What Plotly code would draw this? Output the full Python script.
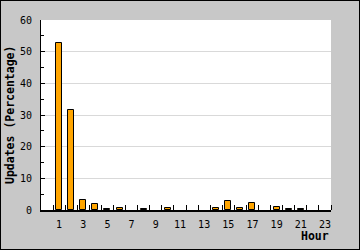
import plotly.graph_objects as go

hours = list(range(24))
updates_pct = [0, 52.6, 31.6, 3.2, 1.9, 0.3, 0.6, 0, 0.3, 0, 0.6, 0, 0,
               0, 0.5, 2.75, 0.6, 2.2, 0, 0.9, 0.2, 0.2, 0, 0]
x_label_vals = list(range(1, 24, 2))
x_tick_bounds = [h + 0.5 for h in hours]
y_label_vals = list(range(0, 61, 10))
y_grid_vals = list(range(10, 51, 10))

W, H = 360, 250
L, R, T, B = 41, 29, 20, 40
PW, PH = W - L - R, H - T - B

mono = "DejaVu Sans Mono"

fig = go.Figure()
fig.add_trace(go.Bar(
    x=hours, y=updates_pct, width=0.5,
    marker=dict(color="#ffa500",
                line=dict(color="black",
                          width=[1 if v > 0 else 0 for v in updates_pct])),
    showlegend=False, hoverinfo="skip",
))

fig.update_layout(
    width=W, height=H,
    margin=dict(l=L, r=R, t=T, b=B, pad=0),
    paper_bgcolor="#c8c8c8", plot_bgcolor="white",
    font=dict(family=mono, size=10, color="black"),
    bargap=0,
    xaxis=dict(
        range=[-0.5, 23.5], tickmode="array", tickvals=x_label_vals,
        ticktext=[str(v) for v in x_label_vals],
        ticks="", showgrid=False, zeroline=False,
        showline=True, linecolor="black", linewidth=2,
        ticklabelstandoff=4,
        minor=dict(tickmode="array", tickvals=x_tick_bounds, ticks="inside",
                   ticklen=5, tickcolor="black", tickwidth=1, showgrid=False),
    ),
    yaxis=dict(
        range=[0, 60], tickmode="array", tickvals=y_label_vals,
        ticks="inside", ticklen=4, tickcolor="black", tickwidth=1,
        showgrid=False, zeroline=False,
        showline=True, linecolor="black", linewidth=1,
        ticklabelstandoff=6,
        minor=dict(dtick=5, ticks="inside", ticklen=3, tickcolor="black",
                   showgrid=False),
    ),
    yaxis2=dict(
        range=[0, 60], overlaying="y", tickmode="array", tickvals=y_grid_vals,
        showgrid=True, gridcolor="#d9d9d9", gridwidth=1,
        showticklabels=False, ticks="", zeroline=False, showline=False,
    ),
)

fig.add_trace(go.Scatter(x=[None], y=[None], yaxis="y2", showlegend=False,
                         hoverinfo="skip"))

fig.add_annotation(
    text="<b>Updates (Percentage)</b>", xref="paper", yref="paper",
    x=(10 - L) / PW, y=0.5, xanchor="center", yanchor="middle",
    textangle=-90, showarrow=False, font=dict(family=mono, size=11.5),
)
fig.add_annotation(
    text="<b>Hour</b>", xref="paper", yref="paper",
    x=1.0, y=-(236 - (T + PH)) / PH, xanchor="right", yanchor="middle",
    showarrow=False, font=dict(family=mono, size=11.5),
)

fig.add_shape(
    type="rect", xref="paper", yref="paper",
    x0=-L / PW, x1=(W - L) / PW, y0=-B / PH, y1=(H - B) / PH,
    line=dict(color="black", width=2), fillcolor="rgba(0,0,0,0)",
    layer="above",
)

fig.write_html("out.html")
